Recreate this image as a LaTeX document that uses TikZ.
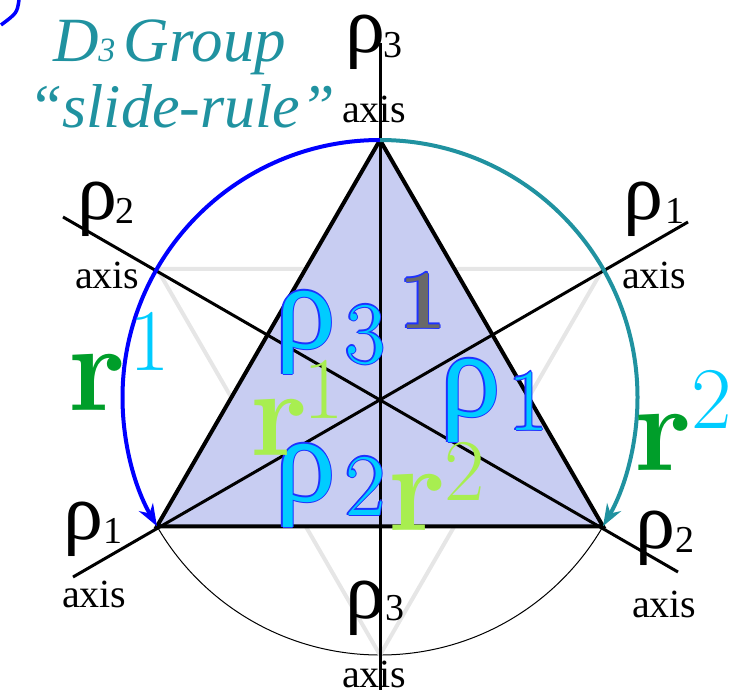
\documentclass[tikz,border=0pt]{standalone}
\usepackage{fontspec}
\newfontfamily\tnr{Liberation Serif}
\usetikzlibrary{arrows.meta}
\definecolor{triblue}{RGB}{200,205,242}
\definecolor{tealc}{RGB}{32,146,160}
\definecolor{cyanf}{RGB}{0,204,255}
\definecolor{olblue}{RGB}{30,50,255}
\definecolor{limeg}{RGB}{168,238,80}
\definecolor{darkg}{RGB}{0,158,42}
\definecolor{grayone}{RGB}{105,105,105}
\definecolor{lightgr}{RGB}{230,230,230}
\definecolor{arcblue}{RGB}{0,0,255}
\newcommand\fsz[1]{\fontsize{#1pt}{#1pt}\selectfont}
\newcommand\ofs[3]{\rlap{\kern#1\raisebox{#2}{#3}}}
\newcommand\outl[2]{{\color{olblue}\ofs{1.3pt}{0pt}{#2}\ofs{-1.3pt}{0pt}{#2}\ofs{0pt}{1.3pt}{#2}\ofs{0pt}{-1.3pt}{#2}\ofs{0.9pt}{0.9pt}{#2}\ofs{-0.9pt}{0.9pt}{#2}\ofs{0.9pt}{-0.9pt}{#2}\ofs{-0.9pt}{-0.9pt}{#2}}\textcolor{#1}{#2}}
\tikzset{
  lab/.style={anchor=base west, inner sep=0pt, outer sep=0pt},
  axisline/.style={line width=3pt, black},
  arcline/.style={line width=4pt, -{Stealth[length=22pt,width=16pt]}},
}
\begin{document}
\begin{tikzpicture}[x=1pt,y=1pt]
\useasboundingbox (0,0) rectangle (733,-690);
\coordinate (C) at (380,-397.5);
\coordinate (T) at (380,-140);
\coordinate (BL) at (157,-526.25);
\coordinate (BR) at (603,-526.25);
\coordinate (G1) at (157,-268.75);
\coordinate (G2) at (603,-268.75);
\coordinate (G3) at (380,-655);
\coordinate (V1) at (380,-43);
\coordinate (V2) at (380,-690);
\coordinate (A1) at (63,-217);
\coordinate (A2) at (678,-572);
\coordinate (B1) at (688,-222);
\coordinate (B2) at (73,-577);
% thin full circle
\draw[line width=1pt] (C) circle[radius=257.5pt];
% faint inverted triangle
\draw[lightgr, line width=4pt, line join=round] (G1) -- (G2) -- (G3) -- cycle;
% filled triangle
\fill[triblue] (T) -- (BL) -- (BR) -- cycle;
% axes
\draw[axisline] (V1) -- (V2);
\draw[axisline] (A1) -- (A2);
\draw[axisline] (B1) -- (B2);
% triangle outline
\draw[line width=4pt, line join=miter] (T) -- (BL) -- (BR) -- cycle;
% rotation arcs
\draw[arcline, arcblue] (T) arc[start angle=90, end angle=210, radius=257.5pt];
\draw[arcline, tealc] (T) arc[start angle=90, end angle=-30, radius=257.5pt];
% corner fragment
\coordinate (F1) at (19,0);
\coordinate (F2) at (1,-25);
\draw[arcblue, line width=3.5pt] (F1) .. controls (17,-13) .. (F2);
% title
\node[lab, text=tealc] (title1) at (53,-62) {\tnr\itshape\fsz{63}D{\fsz{34}3 }Group};
\node[lab, text=tealc] (title2) at (28,-128) {\tnr\itshape\fsz{62}“slide-rule”};
% outer axis labels
\node[lab] (r3t) at (345,-53) {\tnr\fsz{80}ρ};
\node[lab] (r3ts) at (383,-58) {\tnr\fsz{38}3};
\node[lab] (a3t) at (342,-122) {\tnr\fsz{40}axis};
\node[lab] (r2l) at (77,-219) {\tnr\fsz{80}ρ};
\node[lab] (r2ls) at (115,-223) {\tnr\fsz{38}2};
\node[lab] (a2l) at (75,-288) {\tnr\fsz{40}axis};
\node[lab] (r1r) at (623,-219) {\tnr\fsz{80}ρ};
\node[lab] (r1rs) at (665,-223) {\tnr\fsz{38}1};
\node[lab] (a1r) at (622,-288) {\tnr\fsz{40}axis};
\node[lab] (r1b) at (63,-539) {\tnr\fsz{80}ρ};
\node[lab] (r1bs) at (103,-543) {\tnr\fsz{38}1};
\node[lab] (a1b) at (62,-607) {\tnr\fsz{40}axis};
\node[lab] (r2b) at (635,-548) {\tnr\fsz{80}ρ};
\node[lab] (r2bs) at (675,-552) {\tnr\fsz{38}2};
\node[lab] (a2b) at (632,-617) {\tnr\fsz{40}axis};
\node[lab] (r3b) at (345,-618) {\tnr\fsz{80}ρ};
\node[lab] (r3bs) at (385,-620) {\tnr\fsz{38}3};
\node[lab] (a3b) at (342,-687) {\tnr\fsz{40}axis};
% inner labels
\node[lab] (ir3) at (275,-348) {\outl{cyanf}{\tnr\fsz{122}ρ}};
\node[lab] (ir3s) at (345,-363) {\outl{cyanf}{\fsz{88}3}};
\node[lab] (ione) at (399,-328) {\outl{grayone}{\bfseries\fsz{84}1}};
\node[lab] (ir1) at (440,-416) {\outl{cyanf}{\tnr\fsz{122}ρ}};
\node[lab] (ir1s) at (508,-430) {\outl{cyanf}{\fsz{88}1}};
\node[lab] (ir2) at (275,-501) {\outl{cyanf}{\tnr\fsz{122}ρ}};
\node[lab] (ir2s) at (345,-515) {\outl{cyanf}{\fsz{88}2}};
\node[lab, text=limeg] (irr1) at (250,-455) {\bfseries\fsz{125}r};
\node[lab, text=limeg] (irr1s) at (303,-418) {\fsz{88}1};
\node[lab, text=limeg] (irr2) at (388,-530) {\bfseries\fsz{125}r};
\node[lab, text=limeg] (irr2s) at (444,-500) {\fsz{88}2};
% outer r labels
\node[lab, text=darkg] (orr1) at (68,-410) {\bfseries\fsz{125}r};
\node[lab, text=cyanf] (orr1s) at (129,-370) {\fsz{88}1};
\node[lab, text=darkg] (orr2) at (634,-470) {\bfseries\fsz{125}r};
\node[lab, text=cyanf] (orr2s) at (691,-428) {\fsz{88}2};
\end{tikzpicture}
\end{document}
